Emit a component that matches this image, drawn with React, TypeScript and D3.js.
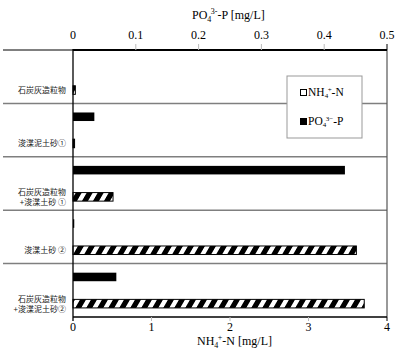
import React from "react";
import * as d3 from "d3";

// 試料名（2行のものは \n で区切る）
const categories = [
  "石炭灰造粒物",
  "浚渫泥土砂①",
  "石炭灰造粒物\n+浚渫土砂 ①",
  "浚渫土砂 ②",
  "石炭灰造粒物\n+浚渫泥土砂②",
];
const nh4Values = [0.03, 0.02, 0.51, 3.61, 3.71];
const po4Values = [0, 0.034, 0.433, 0.002, 0.069];
const nh4Ticks = [0, 1, 2, 3, 4];
const po4Ticks = [0, 0.1, 0.2, 0.3, 0.4, 0.5];

const W = 396;
const H = 363;
const left = 73;
const right = 387;
const top = 50;
const bottom = 317;

const serif = "'Liberation Serif', 'Times New Roman', serif";
const cjk = "'Noto Sans CJK JP', sans-serif";

export default function App() {
  const xN = d3.scaleLinear().domain([0, 4]).range([left, right]);
  const xP = d3.scaleLinear().domain([0, 0.5]).range([left, right]);
  const y = d3.scaleBand<string>().domain(categories).range([top, bottom]);
  const sub = d3
    .scaleBand<string>()
    .domain(["PO4", "NH4"])
    .range([0, y.bandwidth()])
    .paddingInner(0.68)
    .paddingOuter(0.34);

  const fmt = d3.format("");

  return (
    <svg
      width={W}
      height={H}
      style={{ position: "absolute", left: 0, top: 0, background: "#fff" }}
    >
      <defs>
        <pattern
          id="hatch"
          patternUnits="userSpaceOnUse"
          width={11}
          height={11}
          patternTransform="skewX(-30)"
        >
          <rect x={0} y={0} width={11} height={11} fill="#fff" />
          <rect x={0} y={0} width={6} height={11} fill="#000" />
        </pattern>
      </defs>

      {/* 区切り線 */}
      {categories.slice(1).map((c) => (
        <line
          key={c}
          x1={3}
          x2={right}
          y1={y(c)!}
          y2={y(c)!}
          stroke="#7f7f7f"
          strokeWidth={1.5}
        />
      ))}

      {/* 右枠 */}
      <line x1={right} x2={right} y1={top} y2={bottom} stroke="#555" strokeWidth={1.2} />

      {/* 上軸 PO4 */}
      <line x1={3} x2={left} y1={top} y2={top} stroke="#000" strokeWidth={1} />
      <line x1={left} x2={right} y1={top} y2={top} stroke="#000" strokeWidth={2} />
      {po4Ticks.map((t, i) => (
        <g key={"p" + t}>
          {i > 0 && (
            <line
              x1={xP(t)}
              x2={xP(t)}
              y1={top - 6}
              y2={top}
              stroke={i === po4Ticks.length - 1 ? "#000" : "#bbb"}
              strokeWidth={1}
            />
          )}
          <text
            x={xP(t)}
            y={39}
            textAnchor="middle"
            fontFamily={serif}
            fontSize={12}
          >
            {fmt(t)}
          </text>
        </g>
      ))}
      <text x={192} y={19} fontFamily={serif} fontSize={12}>
        PO
        <tspan fontSize={8} dy={3}>4</tspan>
        <tspan fontSize={8} dx={-0.5} dy={-8}>3-</tspan>
        <tspan dy={5}>-P [mg/L]</tspan>
      </text>

      {/* 下軸 NH4 */}
      <line x1={left} x2={right} y1={bottom} y2={bottom} stroke="#000" strokeWidth={1.3} />
      {nh4Ticks.map((t, i) => (
        <g key={"n" + t}>
          {i > 0 && (
            <line
              x1={xN(t)}
              x2={xN(t)}
              y1={bottom}
              y2={bottom + 4}
              stroke={i === nh4Ticks.length - 1 ? "#000" : "#bbb"}
              strokeWidth={1}
            />
          )}
          <text
            x={xN(t)}
            y={331}
            textAnchor="middle"
            fontFamily={serif}
            fontSize={12}
          >
            {t}
          </text>
        </g>
      ))}
      <text x={197} y={345} fontFamily={serif} fontSize={12}>
        NH
        <tspan fontSize={8} dy={3}>4</tspan>
        <tspan fontSize={8} dx={-0.5} dy={-8}>+</tspan>
        <tspan dy={5}>-N [mg/L]</tspan>
      </text>

      {/* バー */}
      {categories.map((c, i) => (
        <g key={"b" + c}>
          {po4Values[i] > 0 && (
            <rect
              x={xP(0)}
              y={y(c)! + sub("PO4")!}
              width={xP(po4Values[i]) - xP(0)}
              height={sub.bandwidth()}
              fill="#000"
            />
          )}
          <rect
            x={xN(0)}
            y={y(c)! + sub("NH4")!}
            width={Math.max(xN(nh4Values[i]) - xN(0), 1)}
            height={sub.bandwidth()}
            fill="url(#hatch)"
            stroke="#000"
            strokeWidth={1}
          />
        </g>
      ))}

      {/* 縦軸 */}
      <line x1={left} x2={left} y1={top - 1} y2={bottom + 4} stroke="#000" strokeWidth={1.3} />

      {/* カテゴリラベル */}
      {categories.map((c) => {
        const lines = c.split("\n");
        const cy = y(c)! + sub("NH4")! + sub.bandwidth() / 2;
        const lh = 10;
        return (
          <text
            key={"l" + c}
            textAnchor="end"
            fontFamily={cjk}
            fontSize={8}
            fill="#222"
          >
            {lines.map((ln, j) => (
              <tspan
                key={j}
                x={66}
                y={cy + 3 + (j - (lines.length - 1) / 2) * lh}
              >
                {ln}
              </tspan>
            ))}
          </text>
        );
      })}

      {/* 凡例 */}
      <g>
        <rect x={287} y={76} width={75} height={62} fill="#fff" stroke="#999" strokeWidth={1} />
        <rect x={300.5} y={89.5} width={6} height={6} fill="#fff" stroke="#000" strokeWidth={1} />
        <text x={308} y={96} fontFamily={serif} fontSize={11.5}>
          NH
          <tspan fontSize={7} dy={2}>4</tspan>
          <tspan fontSize={7} dx={-0.5} dy={-6}>+</tspan>
          <tspan dy={4}>-N</tspan>
        </text>
        <rect x={300} y={118} width={7} height={7} fill="#000" />
        <text x={308} y={125} fontFamily={serif} fontSize={11.5}>
          PO
          <tspan fontSize={7} dy={2}>4</tspan>
          <tspan fontSize={7} dx={-0.5} dy={-6}>3−</tspan>
          <tspan dy={4}>-P</tspan>
        </text>
      </g>
    </svg>
  );
}
